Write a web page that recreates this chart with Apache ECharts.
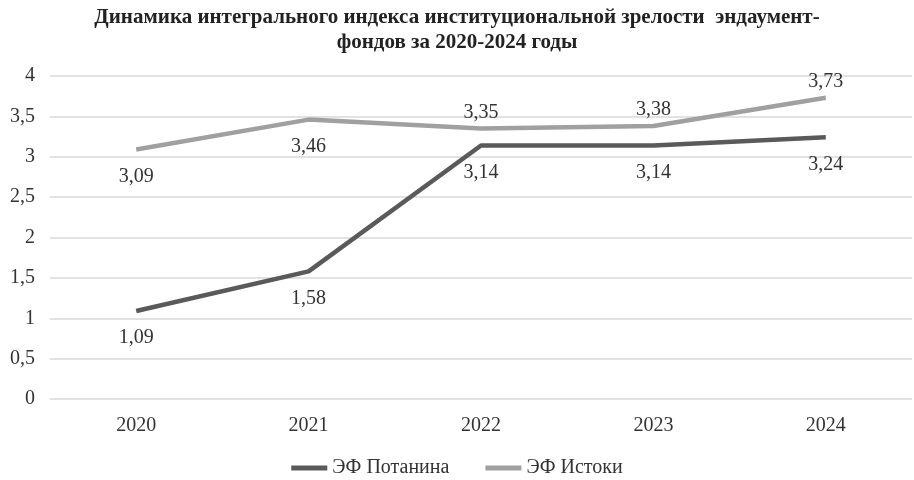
<!DOCTYPE html>
<html><head><meta charset="utf-8">
<script src="https://cdn.jsdelivr.net/npm/echarts@6/dist/echarts.min.js"></script>
<style>html,body{margin:0;padding:0;background:#fff}#c{width:914px;height:480px}</style>
</head><body><div id="c"></div>
<script>
const categories = ['2020','2021','2022','2023','2024'];
const potanina = [1.09, 1.58, 3.14, 3.14, 3.24];
const istoki = [3.09, 3.46, 3.35, 3.38, 3.73];
const istokiLabelPos = ['bottom','bottom','top','top','top'];
const yTicks = [0, 0.5, 1, 1.5, 2, 2.5, 3, 3.5, 4];

const font = '"Liberation Serif", "Times New Roman", serif';
const fmt = v => String(v).replace('.', ',');
const chart = echarts.init(document.getElementById('c'));
const lbl = { show: true, fontFamily: font, fontSize: 20, color: '#333', formatter: p => fmt(p.value) };
chart.setOption({
  backgroundColor: '#fff',
  animation: false,
  textStyle: { fontFamily: font },
  title: {
    text: 'Динамика интегрального индекса институциональной зрелости  эндаумент-\nфондов за 2020-2024 годы',
    left: 'center', top: 0,
    textStyle: { fontFamily: font, fontWeight: 'bold', fontSize: 21, color: '#222', lineHeight: 25 }
  },
  legend: {
    top: 453, left: 'center', itemWidth: 36, itemHeight: 5, itemGap: 36,
    icon: 'rect',
    textStyle: { fontFamily: font, fontSize: 20, color: '#333' },
    data: ['ЭФ Потанина', 'ЭФ Истоки']
  },
  grid: { left: 50, right: 2, top: 76, bottom: 81 },
  xAxis: {
    type: 'category', data: categories, boundaryGap: true,
    axisLine: { show: false }, axisTick: { show: false },
    axisLabel: { fontFamily: font, fontSize: 20, color: '#333', margin: 17 }
  },
  yAxis: {
    type: 'value', min: yTicks[0], max: yTicks[yTicks.length - 1], interval: 0.5,
    axisLine: { show: false }, axisTick: { show: false },
    axisLabel: { fontFamily: font, fontSize: 20, color: '#333', margin: 15, formatter: v => fmt(v) },
    splitLine: { lineStyle: { color: '#d9d9d9', width: 1.5 } }
  },
  series: [
    {
      name: 'ЭФ Потанина', type: 'line', data: potanina,
      symbol: 'circle', symbolSize: 0.1, showSymbol: true,
      lineStyle: { color: '#5a5a5a', width: 4.5 }, itemStyle: { color: '#5a5a5a' },
      label: Object.assign({ position: 'bottom', distance: 17 }, lbl)
    },
    {
      name: 'ЭФ Истоки', type: 'line',
      data: istoki.map((v, i) => ({ value: v, label: { position: istokiLabelPos[i], distance: istokiLabelPos[i] === 'top' ? 6 : 17 } })),
      symbol: 'circle', symbolSize: 0.1, showSymbol: true,
      lineStyle: { color: '#a0a0a0', width: 4.5 }, itemStyle: { color: '#a0a0a0' },
      label: lbl
    }
  ]
});
</script></body></html>
